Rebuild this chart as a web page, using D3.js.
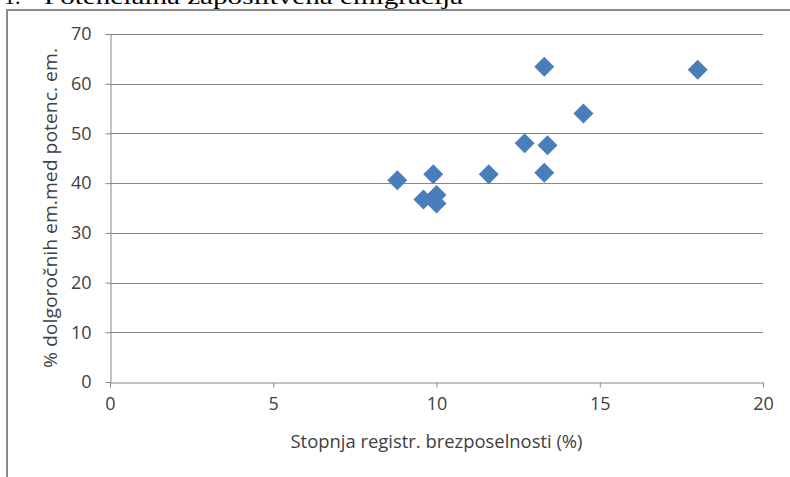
<!DOCTYPE html>
<html>
<head>
<meta charset="utf-8">
<script src="https://cdn.jsdelivr.net/npm/d3@7"></script>
<style>
  html, body { margin: 0; padding: 0; background: #fff; }
  svg { display: block; }
</style>
</head>
<body>
<svg id="chart" width="790" height="477"></svg>
<script>
// unemployment rate (%) vs share of long-term emigration among potential emigrants
var unemployment = [8.8, 9.9, 9.6, 10.0, 10.0, 11.6, 12.7, 13.4, 13.3, 13.3, 14.5, 18.0];
var longTermShare = [40.6, 41.8, 36.7, 37.6, 35.9, 41.8, 48.0, 47.6, 42.1, 63.4, 54.0, 62.8];
var xTicks = [0, 5, 10, 15, 20];
var yTicks = [0, 10, 20, 30, 40, 50, 60, 70];
var xTitle = "Stopnja registr. brezposelnosti (%)";
var yTitle = "% dolgoročnih em.med potenc. em.";
var heading = "Potencialna zaposlitvena emigracija";

var svg = d3.select("#chart");
var font = "'Open Sans', sans-serif";
var textColor = "#404040";
var lineColor = "#868686";

// note: "top" is reserved on window, so use plot* names
var plotLeft = 110, plotRight = 763, plotTop = 34, plotBottom = 382;

var x = d3.scaleLinear().domain([0, 20]).range([plotLeft, plotRight]);
var y = d3.scaleLinear().domain([0, 70]).range([plotBottom, plotTop]);

// cut-off heading of the document above the chart
svg.append("text")
    .attr("x", 4).attr("y", 4)
    .attr("font-family", "'Liberation Serif', serif")
    .attr("font-size", "22px")
    .attr("fill", "#000")
    .text("1.");
svg.append("text")
    .attr("x", 44).attr("y", 4)
    .attr("font-family", "'Liberation Serif', serif")
    .attr("font-size", "22px")
    .attr("fill", "#000")
    .attr("textLength", 419)
    .attr("lengthAdjust", "spacingAndGlyphs")
    .text(heading);

// chart frame
svg.append("path")
    .attr("d", "M7,480V10H795")
    .attr("fill", "none")
    .attr("stroke", "#8a8a8a")
    .attr("stroke-width", 2);

// gridlines
svg.append("g")
    .selectAll("line")
    .data(yTicks.filter(function (d) { return d > 0; }))
    .enter()
    .append("line")
    .attr("x1", plotLeft).attr("x2", plotRight)
    .attr("y1", function (d) { return Math.round(y(d)) + 0.5; })
    .attr("y2", function (d) { return Math.round(y(d)) + 0.5; })
    .attr("stroke", lineColor)
    .attr("stroke-width", 1);

// y axis
var yAxis = svg.append("g")
    .attr("transform", "translate(" + (plotLeft + 0.5) + ",0)")
    .call(d3.axisLeft(y).tickValues(yTicks).tickSize(5).tickPadding(14)
        .tickSizeOuter(0).tickFormat(d3.format("d")));
yAxis.select(".domain").attr("stroke", lineColor);
yAxis.selectAll(".tick line").attr("stroke", lineColor);
yAxis.selectAll(".tick text")
    .attr("font-family", font)
    .attr("font-size", "18px")
    .attr("fill", textColor);

// x axis
var xAxis = svg.append("g")
    .attr("transform", "translate(0," + (plotBottom + 0.5) + ")")
    .call(d3.axisBottom(x).tickValues(xTicks).tickSize(5).tickPadding(10)
        .tickSizeOuter(0).tickFormat(d3.format("d")));
xAxis.select(".domain").attr("stroke", lineColor);
xAxis.selectAll(".tick line").attr("stroke", lineColor);
xAxis.selectAll(".tick text")
    .attr("font-family", font)
    .attr("font-size", "18px")
    .attr("fill", textColor);

// axis titles
svg.append("text")
    .attr("x", (plotLeft + plotRight) / 2)
    .attr("y", 448)
    .attr("text-anchor", "middle")
    .attr("font-family", font)
    .attr("font-size", "19px")
    .attr("fill", textColor)
    .attr("textLength", 292)
    .attr("lengthAdjust", "spacingAndGlyphs")
    .text(xTitle);

svg.append("text")
    .attr("transform", "translate(57," + ((plotTop + plotBottom) / 2) + ") rotate(-90)")
    .attr("text-anchor", "middle")
    .attr("font-family", font)
    .attr("font-size", "19px")
    .attr("fill", textColor)
    .attr("textLength", 320)
    .attr("lengthAdjust", "spacingAndGlyphs")
    .text(yTitle);

// markers
var points = unemployment.map(function (d, i) { return { x: d, y: longTermShare[i] }; });
var diamond = d3.symbol().type(d3.symbolSquare).size(200);

svg.append("g")
    .selectAll("path")
    .data(points)
    .enter()
    .append("path")
    .attr("d", diamond)
    .attr("transform", function (d) {
        return "translate(" + x(d.x) + "," + y(d.y) + ") rotate(45)";
    })
    .attr("fill", "#4a7ebb");
</script>
</body>
</html>
